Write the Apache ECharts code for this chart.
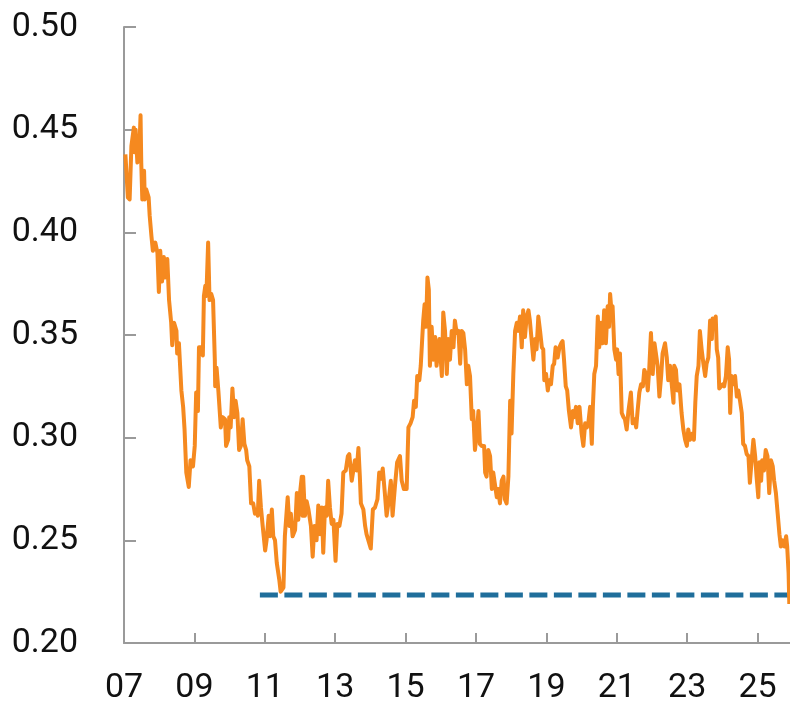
<!DOCTYPE html>
<html>
<head>
<meta charset="utf-8">
<script src="https://cdn.jsdelivr.net/npm/echarts@6/dist/echarts.min.js"></script>
<style>
html,body{margin:0;padding:0;background:#fff;}
#chart{width:790px;height:707px;}
</style>
</head>
<body>
<div id="chart"></div>
<script>
// Decimal years of observations
var dates = [
2007.04,2007.11,2007.16,2007.21,2007.28,2007.30,2007.33,2007.38,2007.43,2007.47,2007.49,2007.52,2007.57,2007.59,2007.63,2007.70,2007.73,2007.78,2007.82,2007.89,2007.95,2007.99,
2008.03,2008.08,2008.13,2008.17,2008.23,2008.28,2008.34,2008.37,2008.42,2008.49,2008.51,2008.56,2008.63,2008.68,2008.72,2008.77,2008.84,2008.89,2008.96,
2009.01,2009.05,2009.10,2009.13,2009.20,2009.24,2009.27,2009.31,2009.34,2009.39,2009.43,2009.48,2009.53,2009.58,2009.59,2009.63,2009.68,2009.75,2009.80,2009.87,2009.90,2009.96,2009.99,
2010.03,2010.08,2010.13,2010.17,2010.22,2010.27,2010.32,2010.37,2010.42,2010.47,2010.50,2010.56,2010.61,2010.67,2010.72,2010.77,2010.80,2010.84,2010.89,2010.94,
2011.01,2011.05,2011.11,2011.15,2011.20,2011.24,2011.29,2011.34,2011.38,2011.41,2011.45,2011.53,2011.57,2011.65,2011.70,2011.74,2011.79,2011.86,2011.91,2011.95,
2012.00,2012.05,2012.07,2012.09,2012.14,2012.19,2012.24,2012.31,2012.36,2012.41,2012.47,2012.52,2012.57,2012.62,2012.66,2012.71,2012.76,2012.80,2012.85,2012.90,2012.95,
2013.01,2013.06,2013.12,2013.18,2013.23,2013.30,2013.36,2013.40,2013.47,2013.51,2013.56,2013.61,2013.66,2013.70,2013.73,2013.80,2013.85,2013.89,2013.94,
2014.01,2014.07,2014.13,2014.20,2014.25,2014.30,2014.35,2014.41,2014.46,2014.51,2014.58,2014.63,2014.70,2014.76,2014.84,2014.89,2014.95,
2015.03,2015.08,2015.14,2015.20,2015.24,2015.29,2015.33,2015.39,2015.43,2015.50,2015.54,2015.58,2015.62,2015.66,2015.69,2015.74,2015.79,2015.84,2015.88,2015.96,
2016.03,2016.07,2016.12,2016.17,2016.21,2016.26,2016.31,2016.36,2016.40,2016.45,2016.50,2016.55,2016.59,2016.64,2016.69,2016.74,2016.78,2016.83,2016.88,2016.92,2016.97,
2017.02,2017.07,2017.11,2017.16,2017.23,2017.26,2017.30,2017.35,2017.40,2017.45,2017.49,2017.54,2017.59,2017.63,2017.68,2017.73,2017.78,2017.82,2017.87,2017.92,2017.97,
2018.01,2018.06,2018.11,2018.16,2018.20,2018.25,2018.30,2018.34,2018.39,2018.44,2018.49,2018.53,2018.58,2018.63,2018.68,2018.72,2018.77,2018.82,2018.87,2018.91,2018.94,2018.99,
2019.04,2019.08,2019.13,2019.18,2019.22,2019.26,2019.32,2019.37,2019.42,2019.46,2019.50,2019.55,2019.59,2019.64,2019.70,2019.75,2019.79,2019.84,2019.89,2019.94,
2020.00,2020.05,2020.10,2020.15,2020.19,2020.24,2020.29,2020.32,2020.36,2020.41,2020.46,2020.50,2020.55,2020.60,2020.64,2020.69,2020.74,2020.78,2020.81,2020.86,2020.88,2020.93,2020.98,
2021.01,2021.05,2021.09,2021.14,2021.19,2021.23,2021.28,2021.33,2021.38,2021.40,2021.45,2021.50,2021.55,2021.59,2021.64,2021.69,2021.74,2021.78,2021.83,2021.88,2021.92,2021.97,
2022.02,2022.07,2022.11,2022.16,2022.21,2022.26,2022.30,2022.37,2022.42,2022.46,2022.51,2022.56,2022.61,2022.63,2022.68,2022.72,2022.78,2022.84,2022.89,2022.94,2022.99,
2023.03,2023.08,2023.15,2023.19,2023.23,2023.27,2023.32,2023.36,2023.41,2023.46,2023.51,2023.55,2023.60,2023.65,2023.70,2023.72,2023.77,2023.81,2023.84,2023.88,2023.91,2023.96,
2024.01,2024.05,2024.10,2024.15,2024.19,2024.22,2024.26,2024.31,2024.36,2024.41,2024.45,2024.50,2024.55,2024.59,2024.64,2024.69,2024.74,2024.78,2024.83,2024.88,2024.93,2024.97,
2025.02,2025.05,2025.10,2025.13,2025.18,2025.23,2025.28,2025.33,2025.38,2025.43,2025.47,2025.52,2025.57,2025.62,2025.66,2025.71,2025.76,2025.81,2025.84,2025.88,2025.90
];
var values = [
0.438,0.417,0.416,0.442,0.451,0.439,0.450,0.434,0.437,0.457,0.434,0.416,0.430,0.416,0.421,0.417,0.408,0.398,0.391,0.395,0.390,0.371,
0.391,0.376,0.388,0.378,0.387,0.367,0.356,0.345,0.356,0.352,0.341,0.346,0.323,0.315,0.304,0.283,0.276,0.289,0.286,
0.296,0.322,0.313,0.344,0.344,0.340,0.369,0.374,0.369,0.395,0.367,0.370,0.367,0.338,0.325,0.334,0.323,0.305,0.310,0.309,0.296,0.299,0.310,
0.305,0.324,0.310,0.318,0.312,0.294,0.296,0.309,0.297,0.294,0.289,0.286,0.268,0.268,0.263,0.265,0.262,0.279,0.266,0.257,
0.245,0.250,0.262,0.252,0.265,0.252,0.250,0.239,0.239,0.231,0.225,0.227,0.252,0.271,0.257,0.263,0.252,0.255,0.273,0.260,
0.273,0.281,0.262,0.281,0.262,0.269,0.265,0.257,0.242,0.257,0.250,0.267,0.253,0.266,0.244,0.266,0.262,0.279,0.266,0.258,0.260,
0.240,0.258,0.257,0.263,0.283,0.284,0.291,0.292,0.279,0.279,0.289,0.284,0.295,0.281,0.268,0.265,0.257,0.253,0.253,
0.246,0.265,0.266,0.270,0.283,0.280,0.285,0.273,0.262,0.268,0.279,0.262,0.277,0.288,0.291,0.279,0.275,
0.275,0.305,0.307,0.310,0.318,0.315,0.330,0.328,0.335,0.357,0.365,0.354,0.378,0.372,0.335,0.354,0.338,0.349,0.335,0.348,
0.330,0.361,0.352,0.331,0.348,0.338,0.352,0.344,0.357,0.351,0.352,0.336,0.352,0.351,0.343,0.326,0.335,0.330,0.309,0.313,0.294,
0.302,0.313,0.297,0.296,0.296,0.283,0.281,0.294,0.291,0.275,0.283,0.283,0.271,0.275,0.268,0.279,0.281,0.270,0.268,0.281,0.318,
0.302,0.331,0.352,0.356,0.352,0.359,0.344,0.362,0.349,0.359,0.362,0.357,0.357,0.338,0.348,0.343,0.359,0.352,0.344,0.343,0.328,0.331,
0.323,0.328,0.326,0.335,0.336,0.344,0.339,0.344,0.346,0.347,0.338,0.325,0.323,0.313,0.305,0.313,0.310,0.315,0.307,0.315,
0.302,0.296,0.307,0.305,0.307,0.315,0.297,0.315,0.331,0.335,0.359,0.344,0.356,0.346,0.362,0.346,0.364,0.354,0.370,0.359,0.364,0.343,0.338,
0.343,0.331,0.341,0.312,0.310,0.309,0.304,0.313,0.313,0.322,0.307,0.309,0.305,0.313,0.322,0.326,0.325,0.333,0.331,0.323,0.333,0.351,
0.331,0.346,0.346,0.335,0.320,0.330,0.341,0.346,0.339,0.328,0.335,0.335,0.317,0.335,0.333,0.323,0.326,0.312,0.304,0.299,0.296,
0.304,0.299,0.302,0.299,0.317,0.330,0.335,0.352,0.343,0.336,0.330,0.336,0.339,0.357,0.348,0.358,0.356,0.359,0.343,0.339,0.324,0.325,
0.326,0.325,0.330,0.344,0.338,0.312,0.330,0.326,0.330,0.320,0.323,0.318,0.312,0.297,0.296,0.292,0.291,0.278,0.289,0.299,0.291,0.281,
0.271,0.288,0.279,0.289,0.284,0.294,0.291,0.273,0.289,0.286,0.279,0.273,0.263,0.253,0.247,0.250,0.247,0.252,0.247,0.234,0.219
];
// Reference (dashed) level
var refStart = 2010.86;
var refEnd = 2025.92;
var refValue = 0.2234;
// Axis settings
var baseYear = 2007;
var xEndYear = 2025.92;
var xTickYears = [2007,2009,2011,2013,2015,2017,2019,2021,2023,2025];
var yMin = 0.20, yMax = 0.50, yStep = 0.05;

var seriesData = dates.map(function(d, i){ return [d - baseYear, values[i]]; });
var refData = [[refStart - baseYear, refValue], [refEnd - baseYear, refValue]];
var tickOffsets = xTickYears.map(function(y){ return y - baseYear; });

var chart = echarts.init(document.getElementById('chart'), null, {renderer:'canvas'});
var axisColor = '#9a9a9a';
var fontFam = 'Roboto, "Noto Sans", sans-serif';
chart.setOption({
  animation: false,
  backgroundColor: '#ffffff',
  grid: {left: 124, right: 0, top: 27, bottom: 64},
  xAxis: {
    type: 'value',
    min: 0,
    max: xEndYear - baseYear,
    splitLine: {show: false},
    axisLine: {show: true, lineStyle: {color: axisColor, width: 2}},
    axisTick: {show: true, inside: true, length: 10, customValues: tickOffsets, lineStyle: {color: axisColor, width: 2}},
    axisLabel: {
      customValues: tickOffsets,
      margin: 28,
      color: '#111111',
      fontFamily: fontFam,
      fontSize: 34,
      formatter: function(v){ var y = Math.round(v + baseYear) % 100; return (y < 10 ? '0' : '') + y; }
    }
  },
  yAxis: {
    type: 'value',
    min: yMin,
    max: yMax,
    interval: yStep,
    splitLine: {show: false},
    axisLine: {show: true, lineStyle: {color: axisColor, width: 2}},
    axisTick: {show: true, inside: true, length: 12, lineStyle: {color: axisColor, width: 2}},
    axisLabel: {
      margin: 46,
      color: '#111111',
      fontFamily: fontFam,
      fontSize: 34,
      formatter: function(v){ return v.toFixed(2); }
    }
  },
  series: [
    {
      type: 'line',
      data: refData,
      symbol: 'none',
      z: 2,
      lineStyle: {color: '#1f6e9b', width: 5, type: [18, 6.5]}
    },
    {
      type: 'line',
      data: seriesData,
      symbol: 'none',
      z: 3,
      lineStyle: {color: '#f5891f', width: 4, join: 'round'}
    }
  ]
});
</script>
</body>
</html>
